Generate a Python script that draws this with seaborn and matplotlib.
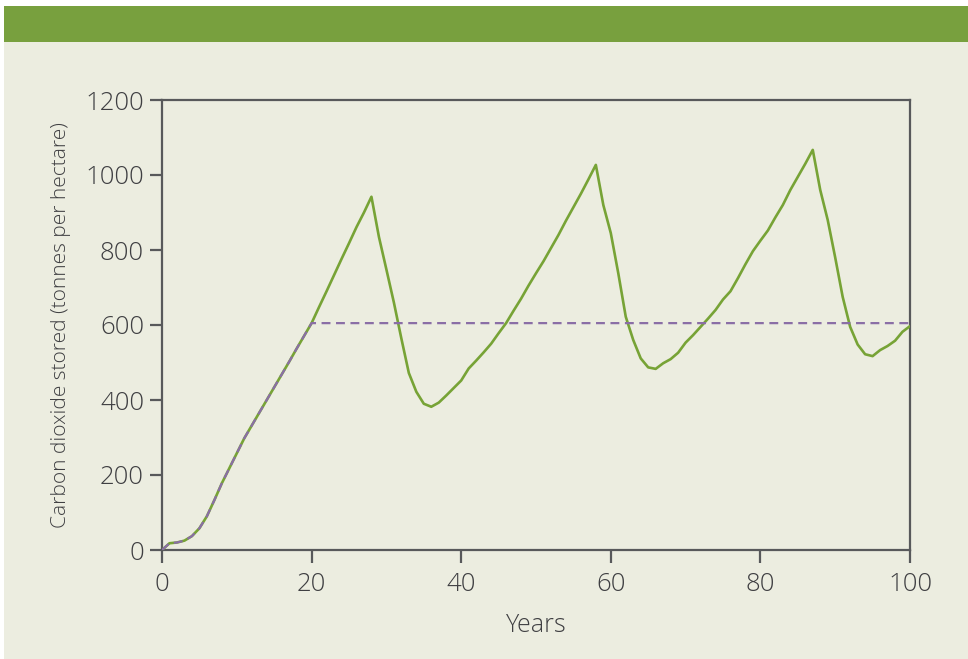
import matplotlib
matplotlib.use("Agg")
import matplotlib.pyplot as plt
import seaborn as sns
import pandas as pd
from matplotlib.patches import Rectangle

# ---- data ----
years = list(range(0, 101))
managed_forest = [
    0, 18, 20, 25, 37, 58, 90, 133, 178, 218,
    258, 298, 332, 366, 400, 434, 468, 502, 537, 571,
    605, 648, 690, 733, 776, 818, 861, 900, 942, 835,
    748, 660, 564, 472, 422, 390, 382, 393, 412, 432,
    452, 484, 505, 527, 550, 578, 605, 638, 670, 705,
    738, 770, 805, 840, 878, 914, 950, 988, 1027, 920,
    845, 738, 622, 560, 511, 487, 483, 498, 509, 526,
    553, 573, 595, 617, 640, 668, 690, 725, 762, 797,
    825, 852, 887, 920, 960, 995, 1030, 1067, 960, 880,
    780, 675, 595, 548, 522, 517, 533, 544, 558, 582,
    597,
]
unmanaged_years = years[:21] + [100]
unmanaged_forest = managed_forest[:21] + [605]

x_ticks = [0, 20, 40, 60, 80, 100]
y_ticks = [0, 200, 400, 600, 800, 1000, 1200]
x_label = "Years"
y_label = "Carbon dioxide stored (tonnes per hectare)"

# ---- style ----
BG = "#ecede0"
BANNER = "#78a03e"
GREEN = "#77a336"
PURPLE = "#8a6ea6"
AXIS = "#58595b"
TEXT = "#3f3f42"

sns.set_theme(style="white")
plt.rcParams["font.family"] = ["Open Sans", "DejaVu Sans"]

W, H = 968, 659
fig = plt.figure(figsize=(W / 100, H / 100), dpi=100, facecolor="white")

# panel background and banner
fig.patches.append(Rectangle((4 / W, 0), 1 - 4 / W, 1 - 6 / H,
                             transform=fig.transFigure, facecolor=BG,
                             edgecolor="none", zorder=-10))
fig.patches.append(Rectangle((4 / W, 1 - 42 / H), 1 - 4 / W, 36 / H,
                             transform=fig.transFigure, facecolor=BANNER,
                             edgecolor="none", zorder=-9))

ax = fig.add_axes([162 / W, 1 - 550 / H, (910 - 162) / W, (550 - 100) / H])
ax.set_facecolor(BG)

df_a = pd.DataFrame({"year": years, "co2": managed_forest})
df_b = pd.DataFrame({"year": unmanaged_years, "co2": unmanaged_forest})

sns.lineplot(data=df_a, x="year", y="co2", ax=ax, color=GREEN,
             linewidth=1.9, zorder=3)
sns.lineplot(data=df_b, x="year", y="co2", ax=ax, color=PURPLE,
             linewidth=1.6, linestyle=(0, (4, 2.5)), zorder=4)

ax.set_xlim(0, 100)
ax.set_ylim(0, 1200)
ax.set_xticks(x_ticks)
ax.set_yticks(y_ticks)
ax.tick_params(axis="both", which="major", direction="out", length=9,
               width=1.6, color=AXIS, labelcolor=TEXT, labelsize=18.5,
               bottom=True, left=True, top=False, right=False)
ax.tick_params(axis="y", pad=4)
ax.tick_params(axis="x", pad=7)
for s in ax.spines.values():
    s.set_visible(True)
    s.set_color(AXIS)
    s.set_linewidth(1.6)

ax.set_xlabel(x_label, fontsize=18, color=TEXT, labelpad=11,
              fontweight="light")
ax.set_ylabel(y_label, fontsize=15, color=TEXT, labelpad=10,
              fontweight="light")
for t in ax.get_xticklabels() + ax.get_yticklabels():
    t.set_fontweight("light")

fig.savefig("out.png", dpi=100, facecolor="white")
